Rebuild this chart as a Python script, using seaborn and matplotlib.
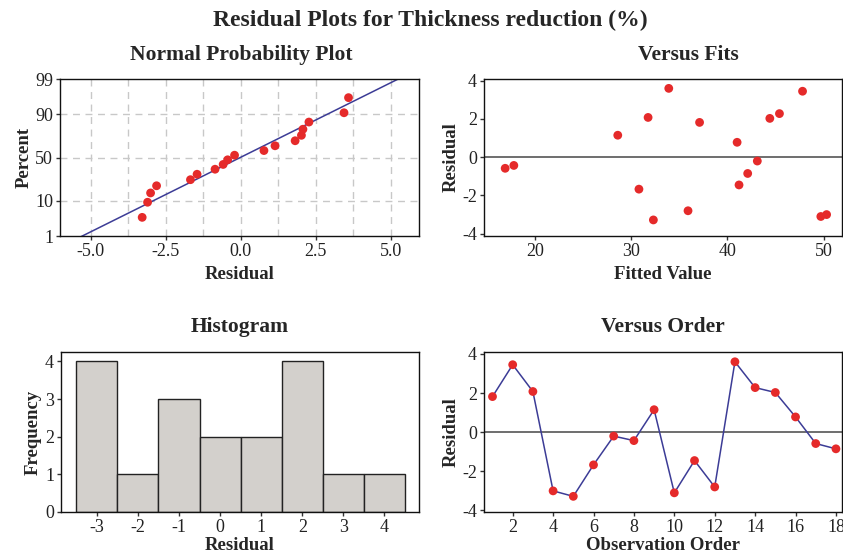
import statistics
import numpy as np
import pandas as pd
import matplotlib
matplotlib.use('Agg')
import matplotlib.pyplot as plt
import seaborn as sns

# residuals in observation order, and the matching fitted values
residuals = [1.82, 3.45, 2.08, -3.0, -3.28, -1.67, -0.2, -0.43, 1.15,
             -3.1, -1.45, -2.8, 3.6, 2.28, 2.03, 0.78, -0.58, -0.85]
fitted = [37.1, 47.8, 31.75, 50.3, 32.3, 30.8, 43.1, 17.8, 28.6,
          49.7, 41.2, 35.9, 33.9, 45.4, 44.4, 41.0, 16.9, 42.1]
order = list(range(1, len(residuals) + 1))

pct_ticks = [1, 10, 50, 90, 99]
prob_xticks = [-5.0, -2.5, 0.0, 2.5, 5.0]
hist_xticks = [-3, -2, -1, 0, 1, 2, 3, 4]

df = pd.DataFrame({'order': order, 'resid': residuals, 'fit': fitted})

sns.set_style('white')
plt.rcParams['font.family'] = ['Liberation Serif', 'DejaVu Serif']
plt.rcParams['axes.unicode_minus'] = False
plt.rcParams['axes.linewidth'] = 1.0
plt.rcParams['xtick.major.size'] = 3
plt.rcParams['ytick.major.size'] = 3
plt.rcParams['xtick.major.width'] = 1
plt.rcParams['ytick.major.width'] = 1
plt.rcParams['xtick.bottom'] = True
plt.rcParams['ytick.left'] = True

W, H = 843, 560
fig = plt.figure(figsize=(W / 100, H / 100), dpi=100)


def box(l, t, r, b):
    return [l / W, 1 - b / H, (r - l) / W, (b - t) / H]


red = '#E52A2A'
navy = '#3C3C96'
tick_fs = 13
lab_fs = 13.5

# 1. normal probability plot
nd = statistics.NormalDist()
n = len(residuals)
srt = np.sort(residuals)
z = [nd.inv_cdf((i - 0.3) / (n + 0.4)) for i in range(1, n + 1)]
mu, sd = np.mean(residuals), np.std(residuals, ddof=1)
zlim = nd.inv_cdf(0.99)
zline = np.array([-zlim - 0.2, zlim + 0.2])

ax1 = fig.add_axes(box(60, 79, 419, 236))
for gx in np.arange(-5.0, 5.01, 1.25):
    ax1.axvline(gx, color='#C8C8C8', lw=1, ls=(0, (5, 4)), zorder=0)
for p in [10, 50, 90]:
    ax1.axhline(nd.inv_cdf(p / 100), color='#C8C8C8', lw=1, ls=(0, (5, 4)), zorder=0)
sns.lineplot(x=mu + sd * zline, y=zline, ax=ax1, color=navy, lw=1.1)
sns.scatterplot(x=srt, y=z, ax=ax1, color=red, s=40, edgecolor='none', zorder=3)
ax1.set_xlim(-6.02, 5.95)
ax1.set_ylim(-zlim, zlim)
ax1.set_yticks([nd.inv_cdf(p / 100) for p in pct_ticks])
ax1.set_yticklabels([str(p) for p in pct_ticks])
ax1.set_xticks(prob_xticks)
ax1.set_xticklabels([f'{v:.1f}' for v in prob_xticks])
ax1.set_xlabel('Residual', fontsize=lab_fs, fontweight='bold', labelpad=4)
ax1.set_ylabel('Percent', fontsize=lab_fs, fontweight='bold', labelpad=2)

# 2. versus fits
ax2 = fig.add_axes(box(484, 79, 842, 236))
ax2.axhline(0, color='#555555', lw=1.2, zorder=1)
sns.scatterplot(data=df, x='fit', y='resid', ax=ax2, color=red, s=40, edgecolor='none', zorder=3)
ax2.set_xlim(14.7, 51.9)
ax2.set_ylim(-4.12, 4.09)
ax2.set_xticks([20, 30, 40, 50])
ax2.set_yticks([-4, -2, 0, 2, 4])
ax2.set_xlabel('Fitted Value', fontsize=lab_fs, fontweight='bold', labelpad=4)
ax2.set_ylabel('Residual', fontsize=lab_fs, fontweight='bold', labelpad=2)

# 3. histogram
ax3 = fig.add_axes(box(61, 352, 419, 512))
sns.histplot(x=residuals, bins=np.arange(-3.5, 4.6, 1), ax=ax3, color='#D3D0CC',
             edgecolor='#222222', linewidth=1, alpha=1)
ax3.set_xlim(-3.87, 4.84)
ax3.set_ylim(0, 4.25)
ax3.set_xticks(hist_xticks)
ax3.set_yticks([0, 1, 2, 3, 4])
ax3.set_xlabel('Residual', fontsize=lab_fs, fontweight='bold', labelpad=1)
ax3.set_ylabel('Frequency', fontsize=lab_fs, fontweight='bold', labelpad=2)

# 4. versus order
ax4 = fig.add_axes(box(484, 352, 842, 512))
ax4.axhline(0, color='#555555', lw=1.2, zorder=1)
sns.lineplot(data=df, x='order', y='resid', ax=ax4, color=navy, lw=1.1, zorder=2)
sns.scatterplot(data=df, x='order', y='resid', ax=ax4, color=red, s=40, edgecolor='none', zorder=3)
ax4.set_xlim(0.58, 18.3)
ax4.set_ylim(-4.08, 4.1)
ax4.set_xticks(list(range(2, 19, 2)))
ax4.set_yticks([-4, -2, 0, 2, 4])
ax4.set_xlabel('Observation Order', fontsize=lab_fs, fontweight='bold', labelpad=1)
ax4.set_ylabel('Residual', fontsize=lab_fs, fontweight='bold', labelpad=2)

for ax in [ax1, ax2, ax3, ax4]:
    for s in ax.spines.values():
        s.set_visible(True)
        s.set_color('#111111')
    ax.tick_params(labelsize=tick_fs, colors='#333333', labelcolor='#222222', pad=2)

fig.text(430 / W, 1 - 20 / H, 'Residual Plots for Thickness reduction (%)',
         ha='center', va='center', fontsize=17, fontweight='bold')
fig.text(241 / W, 1 - 55 / H, 'Normal Probability Plot', ha='center', va='center',
         fontsize=15.5, fontweight='bold')
fig.text(688 / W, 1 - 55 / H, 'Versus Fits', ha='center', va='center',
         fontsize=15.5, fontweight='bold')
fig.text(240 / W, 1 - 327 / H, 'Histogram', ha='center', va='center',
         fontsize=15.5, fontweight='bold')
fig.text(663 / W, 1 - 327 / H, 'Versus Order', ha='center', va='center',
         fontsize=15.5, fontweight='bold')

fig.savefig('out.png', dpi=100)
